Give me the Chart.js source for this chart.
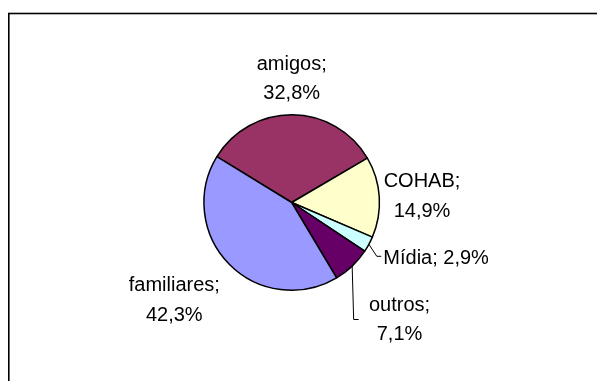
<!DOCTYPE html>
<html>
<head>
<meta charset="utf-8">
<script src="https://cdn.jsdelivr.net/npm/chart.js@4.4.1/dist/chart.umd.min.js"></script>
<style>
    body { margin: 0; background: #fff; }
    canvas { display: block; }
</style>
</head>
<body>
<canvas id="grafico" width="597" height="381"></canvas>
<script>
// origem da indicação
const categorias = ['amigos', 'COHAB', 'Mídia', 'outros', 'familiares'];
const percentuais = [32.8, 14.9, 2.9, 7.1, 42.3];
const cores = ['#993366', '#FFFFCC', '#CCFFFF', '#660066', '#9999FF'];

const ctx = document.getElementById('grafico');

// moldura do gráfico
const moldura = {
    id: 'moldura',
    beforeDraw(chart) {
        const c = chart.ctx;
        c.save();
        c.fillStyle = '#fff';
        c.fillRect(0, 0, chart.width, chart.height);
        c.strokeStyle = '#000';
        c.lineWidth = 1.6;
        c.strokeRect(8.8, 13.5, 620, 400);
        c.restore();
    }
};

// rótulos "nome; valor%" com linhas de chamada para as fatias pequenas
const posRotulos = [
    { dx: 0, dy: -132.7, alinha: 'center' },
    { dx: 130.3, dy: -15.4, alinha: 'center' },
    { dx: 91.6, dy: 61.3, alinha: 'left', umaLinha: true, chamada: true },
    { dx: 107.8, dy: 108, alinha: 'center', chamada: true },
    { dx: -117.4, dy: 88.8, alinha: 'center' }
];

const fmt = v => v.toFixed(1).replace('.', ',') + '%';

const rotulos = {
    id: 'rotulos',
    afterDatasetsDraw(chart) {
        const c = chart.ctx;
        const arcos = chart.getDatasetMeta(0).data;
        c.save();
        c.font = '20px "Liberation Sans", Arial, sans-serif';
        c.fillStyle = '#000';
        c.strokeStyle = '#000';
        c.lineWidth = 1;
        arcos.forEach((arco, i) => {
            const p = posRotulos[i];
            const cx = arco.x, cy = arco.y;
            const x = cx + p.dx, y = cy + p.dy;
            c.textAlign = p.alinha;
            c.textBaseline = 'alphabetic';
            if (p.umaLinha) {
                c.fillText(categorias[i] + '; ' + fmt(percentuais[i]), x, y);
            } else {
                c.fillText(categorias[i] + ';', x, y);
                c.fillText(fmt(percentuais[i]), x, y + 29.5);
            }
            if (p.chamada) {
                const meio = (arco.startAngle + arco.endAngle) / 2;
                const x0 = cx + Math.cos(meio) * arco.outerRadius;
                const y0 = cy + Math.sin(meio) * arco.outerRadius;
                c.beginPath();
                c.moveTo(x0, y0);
                if (i === 2) {
                    c.lineTo(x - 6.5, y - 7.5);
                    c.lineTo(x - 2, y - 7.5);
                } else {
                    c.lineTo(x0 + 1.5, y + 9);
                    c.lineTo(x0 + 6.5, y + 9);
                }
                c.stroke();
            }
        });
        c.restore();
    }
};

new Chart(ctx, {
    type: 'pie',
    data: {
        labels: categorias,
        datasets: [{
            data: percentuais,
            backgroundColor: cores,
            borderColor: '#000',
            borderWidth: 1.5
        }]
    },
    options: {
        responsive: false,
        animation: false,
        rotation: -58.5,
        layout: {
            padding: { top: 114, bottom: 90, left: 0, right: 13.6 }
        },
        plugins: {
            legend: { display: false },
            tooltip: { enabled: false }
        }
    },
    plugins: [moldura, rotulos]
});
</script>
</body>
</html>
